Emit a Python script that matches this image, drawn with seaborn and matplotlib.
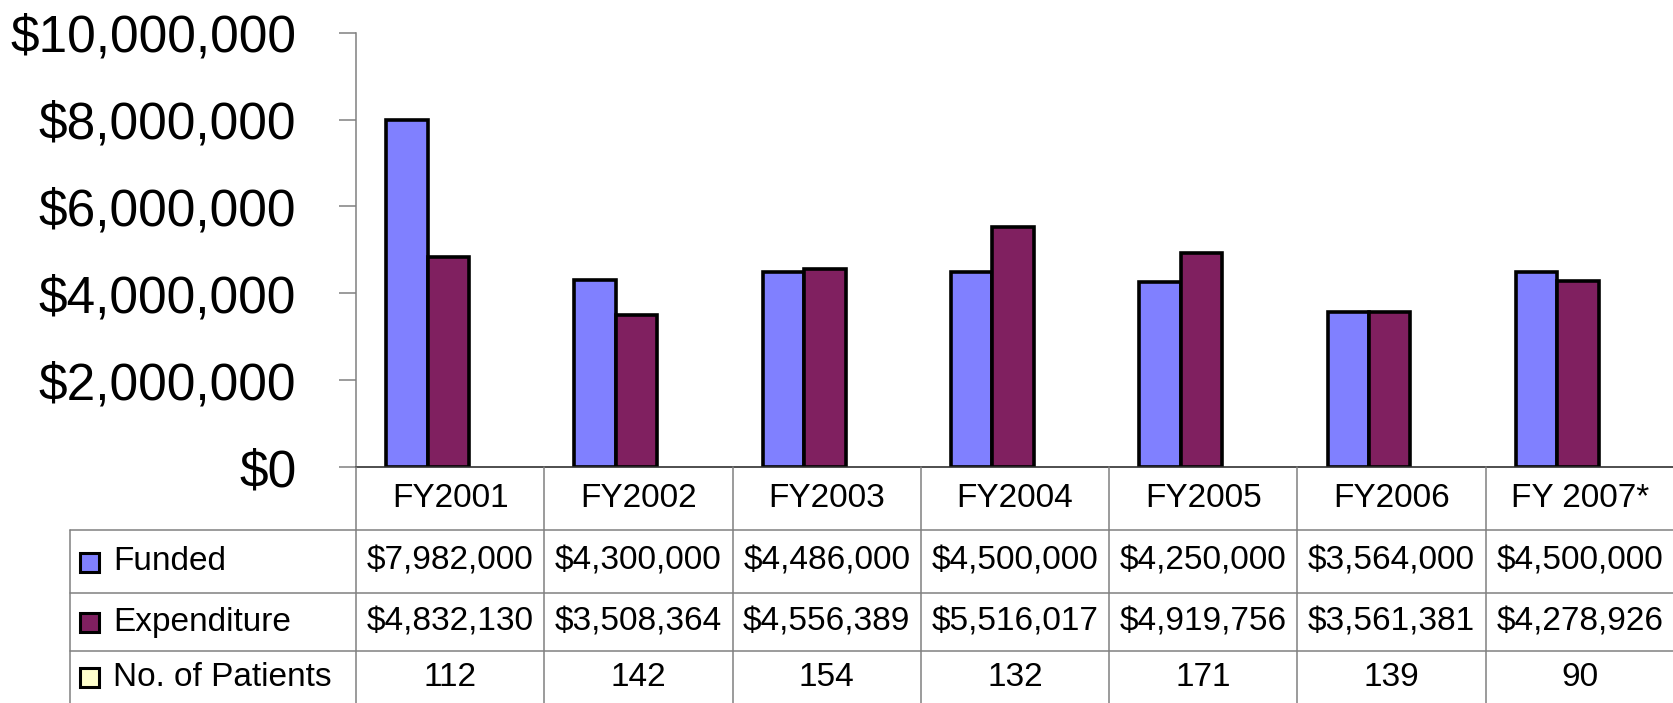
import matplotlib
matplotlib.use("Agg")
import matplotlib.pyplot as plt
from matplotlib.patches import Rectangle
import numpy as np
import pandas as pd
import seaborn as sns

years = ["FY2001", "FY2002", "FY2003", "FY2004", "FY2005", "FY2006", "FY 2007*"]
funded = [7982000, 4300000, 4486000, 4500000, 4250000, 3564000, 4500000]
expenditure = [4832130, 3508364, 4556389, 5516017, 4919756, 3561381, 4278926]
patients = [112, 142, 154, 132, 171, 139, 90]

series_names = ["Funded", "Expenditure", "No. of Patients"]
series_colors = ["#8080FF", "#802060", "#FFFFCC"]

sns.set_style("white")
plt.rcParams["font.family"] = ["Liberation Sans", "DejaVu Sans"]
plt.rcParams["text.color"] = "black"
plt.rcParams["ytick.labelcolor"] = "black"

W, H = 1674, 703
fig = plt.figure(figsize=(W / 100, H / 100), dpi=100)

# plot area in pixel terms
left_px, right_px, top_px, base_px = 356, 1674, 32.7, 467
ax = fig.add_axes([left_px / W, (H - base_px) / H,
                   (right_px - left_px) / W, (base_px - top_px) / H])

df = pd.DataFrame({
    "year": years * 2,
    "series": ["Funded"] * len(years) + ["Expenditure"] * len(years),
    "value": funded + expenditure,
})
sns.barplot(data=df, x="year", y="value", hue="series", order=years,
            hue_order=series_names[:2], palette=series_colors[:2],
            width=0.44, edgecolor="black", linewidth=2.6, saturation=1,
            legend=False, ax=ax)

ax.set_xlim(-0.38, 6.62)
ax.set_ylim(0, 10000000)
ax.set_yticks(np.arange(0, 10000001, 2000000))
ax.yaxis.set_major_formatter(matplotlib.ticker.FuncFormatter(lambda v, p: f"${v:,.0f}"))
ax.tick_params(axis="y", which="major", direction="out", length=12, width=1.1,
               color="#808080", pad=31, labelsize=37, labelcolor="black", left=True)
ax.set_xticks([])
ax.set_xlabel("")
ax.set_ylabel("")
for s in ["top", "right"]:
    ax.spines[s].set_visible(False)
ax.spines["left"].set_color("#808080")
ax.spines["left"].set_linewidth(1.1)
ax.spines["bottom"].set_color("#303030")
ax.spines["bottom"].set_linewidth(1.2)
ax.patch.set_alpha(0)

# data table drawn underneath in pixel coordinates
tb = fig.add_axes([0, 0, 1, 1])
tb.set_xlim(0, W)
tb.set_ylim(H, 0)
tb.axis("off")
tb.patch.set_alpha(0)

grid = "#808080"
ncol = len(years)
col_w = (right_px - left_px) / ncol
row_lines = [base_px, 530, 593, 651, H]
table_left = 70

for k in range(ncol + 1):
    x = left_px + k * col_w
    tb.plot([x, x], [base_px, H], color=grid, lw=1.1)
tb.plot([table_left, table_left], [row_lines[1], H], color=grid, lw=1.1)
for y in row_lines[1:4]:
    tb.plot([table_left, right_px], [y, y], color=grid, lw=1.1)

fs = 24
row_centers = [(row_lines[i] + row_lines[i + 1]) / 2 for i in range(4)]
rows = [[f"${v:,}" for v in funded],
        [f"${v:,}" for v in expenditure],
        [str(v) for v in patients]]

for k, yr in enumerate(years):
    cx = left_px + (k + 0.5) * col_w
    tb.text(cx, row_centers[0], yr, ha="center", va="center", fontsize=fs)
    for r in range(3):
        tb.text(cx, row_centers[r + 1], rows[r][k], ha="center", va="center", fontsize=fs)

for r in range(3):
    cy = row_centers[r + 1]
    tb.add_patch(Rectangle((80, cy - 9), 19, 19, facecolor=series_colors[r],
                           edgecolor="black", lw=2.2))
    tb.text(113, cy, series_names[r], ha="left", va="center", fontsize=fs)

fig.savefig("out.png", dpi=100)
